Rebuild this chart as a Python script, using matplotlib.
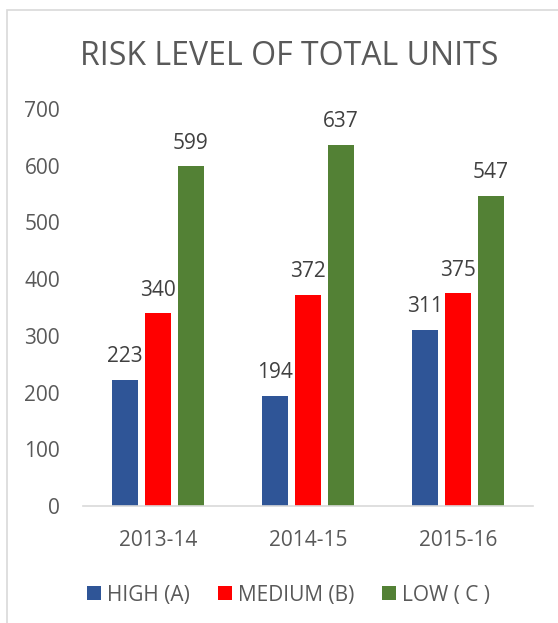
import matplotlib
matplotlib.use("Agg")
import matplotlib.pyplot as plt
from matplotlib.patches import Rectangle
import numpy as np

categories = ["2013-14", "2014-15", "2015-16"]
series_names = ["HIGH (A)", "MEDIUM (B)", "LOW ( C )"]
high = [223, 194, 311]
medium = [340, 372, 375]
low = [599, 637, 547]
colors = ["#2F5597", "#FF0000", "#538135"]
yticks = [0, 100, 200, 300, 400, 500, 600, 700]

plt.rcParams['font.family'] = ['Open Sans', 'DejaVu Sans']
txt = "#595959"

W, H = 558, 623
fig = plt.figure(figsize=(W / 100, H / 100), dpi=100)
fig.add_artist(Rectangle((7 / W, -0.1), 1.2, 1 - 10 / H + 0.1, transform=fig.transFigure,
                         fill=False, edgecolor="#D9D9D9", linewidth=1.2))
ax = fig.add_axes([83 / W, 1 - 506 / H, (533 - 83) / W, (506 - 109) / H])

x = np.arange(len(categories))
w = 0.173
step = 0.22
for i, (vals, name) in enumerate(zip([high, medium, low], series_names)):
    pos = x + (i - 1) * step
    ax.bar(pos, vals, width=w, color=colors[i], label=name)
    for p, v in zip(pos, vals):
        ax.text(p, v + 31, str(v), ha="center", va="baseline", fontsize=15, color="#404040")

ax.set_xlim(-0.5, 2.5)
ax.set_ylim(0, 700)
ax.set_yticks(yticks)
ax.set_xticks(x)
ax.set_xticklabels(categories)
for s in ["top", "right", "left"]:
    ax.spines[s].set_visible(False)
ax.spines["bottom"].set_color("#D9D9D9")
ax.spines["bottom"].set_linewidth(1.2)
ax.tick_params(axis="both", length=0, labelsize=15, colors=txt)
ax.tick_params(axis="x", pad=17)
ax.tick_params(axis="y", pad=16.5)

fig.text(289 / W, 1 - 65 / H, "RISK LEVEL OF TOTAL UNITS", ha="center", va="baseline",
         fontsize=23, color=txt)

fig.legend(loc="center", bbox_to_anchor=(288.5 / W, 1 - 595 / H), ncol=3, frameon=False,
           fontsize=15, handlelength=0.67, handleheight=0.67, handletextpad=0.29,
           columnspacing=1.35, labelcolor=txt)

fig.savefig("out.png", dpi=100)
